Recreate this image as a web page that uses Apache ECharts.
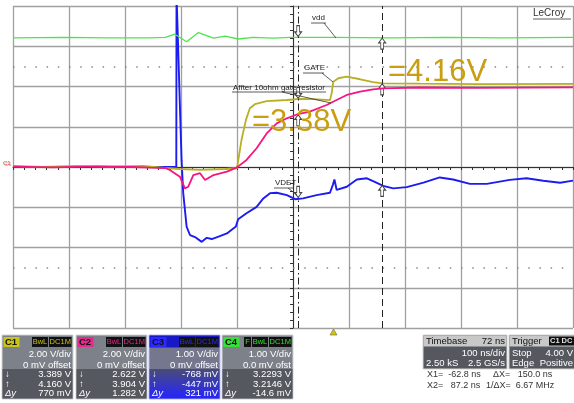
<!DOCTYPE html>
<html><head><meta charset="utf-8">
<script src="https://cdn.jsdelivr.net/npm/echarts/dist/echarts.min.js"></script>
<style>html,body{margin:0;padding:0;background:#fff}#c{width:574px;height:403px}</style>
</head><body><div id="c"></div>
<script>
// ---- data (time in ns, values in volts) ----
const c1Time = [-572,-520,-460,-400,-340,-300,-274,-238,-193,-172,-164,-156,-149,-140,-119,-83,-60,-36,-6,-3,0,9,24,48,71,89,155,262,428];
const c1Volt = [0.05,0.0,0.06,0.02,0.05,-0.05,-0.1,-0.14,-0.1,-0.05,1.34,2.34,2.92,3.12,3.27,3.33,3.39,3.37,3.32,3.66,4.24,4.41,4.49,4.36,4.22,4.16,4.14,4.12,4.13];

const c2Time = [-572,-500,-420,-360,-327,-300,-292,-274,-265,-259,-250,-238,-229,-214,-190,-172,-155,-137,-119,-101,-83,-65,-42,-12,6,24,48,71,89,155,262,428];
const c2Volt = [0.02,-0.02,0.03,0.0,-0.03,-0.05,-0.15,-0.48,-1.06,-0.98,-0.40,-0.31,-0.65,-0.40,-0.23,-0.02,0.35,0.93,1.67,2.17,2.42,2.61,2.75,3.08,3.33,3.58,3.74,3.86,3.91,3.95,3.93,3.96];

const c3Time = [-572,-280.4,-280,-271,-268,-262,-256,-247,-235,-226,-217,-205,-190,-174,-170,-155,-137,-125,-113,-101,-83,-68,-54,-30,-6,-1,2,6,24,42,60,74,89,107,131,161,190,214,244,274,315,345,375,405,428];
const c3Volt = [0,0,4.3,0.17,-0.65,-1.48,-1.69,-1.74,-1.86,-1.76,-1.79,-1.73,-1.65,-1.48,-1.30,-1.15,-0.99,-0.78,-0.65,-0.64,-0.70,-0.80,-0.78,-0.70,-0.64,-0.45,-0.31,-0.57,-0.49,-0.31,-0.28,-0.37,-0.47,-0.53,-0.50,-0.39,-0.26,-0.31,-0.42,-0.42,-0.32,-0.28,-0.34,-0.39,-0.34];

const c4Time = [-572,-480,-400,-330,-300,-283,-262,-241,-214,-193,-170,-143,-107,-77,0,100,200,300,428];
const c4Volt = [3.21,3.22,3.21,3.21,3.22,3.30,3.11,3.34,3.20,3.25,3.18,3.22,3.20,3.22,3.22,3.21,3.22,3.21,3.22];

const cursorTimes = [-62.8, 87.2];
const c1AtCursor = [3.389, 4.160];
const c2AtCursor = [2.622, 3.904];
const c3AtCursor = [-0.768, -0.447];
const c4AtCursor = [3.2293, 3.2146];

const chNames = ['C1','C2','C3','C4'];
const chColors = ['#b8b020','#f5167f','#1c1cf0','#4ce64c'];
const tagColors = ['#c8c418','#e8288e','#2a2aff','#36e036'];
const voltsPerDiv = ['2.00 V/div','2.00 V/div','1.00 V/div','1.00 V/div'];
const offsets = ['0 mV offset','0 mV offset','0 mV offset','0.0 mV ofst'];
const readX1 = ['3.389 V','2.622 V','-768 mV','3.2293 V'];
const readX2 = ['4.160 V','3.904 V','-447 mV','3.2146 V'];
const readDy = ['770 mV','1.282 V','321 mV','-14.6 mV'];

const annotations = ['vdd','GATE','Affter 10ohm gate resistor','VDET'];
const bigLabels = ['=3.38V','=4.16V'];

// ---- chart ----
const F = 'Liberation Sans, Arial, sans-serif';
const zip = (t, v) => t.map((x, i) => [x, v[i]]);
const arrowPath = 'path://M5,0L10,6L7,6L7,14L3,14L3,6L0,6Z';
const up = (t, v) => ({coord:[t, v], symbolOffset:[0, 6]});
const down = (t, v) => ({coord:[t, v], symbolRotate:180, symbolOffset:[0, -6]});
const mp = (data) => ({symbol: arrowPath, symbolSize:[7,11], silent:true, label:{show:false},
  itemStyle:{color:'#fff', borderColor:'#444', borderWidth:1}, data});

const G = [];
function T(x, y, text, o) { G.push(Object.assign({type:'text', x, y, z:100, style:Object.assign({text, fill:'#fff', fontSize:9.5, fontFamily:F, align:'left', verticalAlign:'middle'}, o||{})})); }
function R(x, y, w, h, fill, stroke) { G.push({type:'rect', z:90, shape:{x, y, width:w, height:h}, style:{fill, stroke: stroke||null, lineWidth:1}}); }
function L(x1, y1, x2, y2, c, lw) { G.push({type:'line', z:100, shape:{x1, y1, x2, y2}, style:{stroke:c||'#333', lineWidth:lw||0.8}}); }

// annotations
T(312, 18, annotations[0], {fill:'#222', fontSize:8}); L(311, 23, 326, 23); L(324, 23, 336, 38);
T(304, 68, annotations[1], {fill:'#222', fontSize:8}); L(303, 73, 324, 73); L(322, 73, 333, 82);
T(233, 88, annotations[2], {fill:'#222', fontSize:8}); L(232, 92, 326, 92); L(282, 92, 331, 103);
T(275, 183, annotations[3], {fill:'#222', fontSize:8}); L(274, 188, 294, 188); L(288, 188, 297, 195);
T(252, 122, bigLabels[0], {fill:'#c99e10', fontSize:31});
T(388, 72, bigLabels[1], {fill:'#c99e10', fontSize:31});
T(533, 13, 'LeCroy', {fill:'#333', fontSize:10}); L(533, 19, 571, 19, '#333', 0.8);
T(3, 163, 'C1', {fill:chColors[1], fontSize:6}); T(4, 164, 'C1', {fill:chColors[0], fontSize:6});
G.push({type:'polygon', z:100, shape:{points:[[330,335],[337,335],[333.5,329]]}, style:{fill:'#d8c400', stroke:'#666', lineWidth:0.6}});

// channel boxes
const boxX = [2, 76, 149, 222];
chNames.forEach((n, i) => {
  const x0 = boxX[i], y0 = 335, w = 71, h = 64, act = i === 2;
  R(x0, y0, w, h, act ? '#74778e' : '#7d8189', act ? '#b8b8ff' : '#d4d4d4');
  if (act) R(x0 + 0.5, y0 + 0.5, w - 1, 12, '#1818c4');
  R(x0 + 0.5, y0 + 34, w - 1, h - 34.5, act ? new echarts.graphic.LinearGradient(0,0,0,1,[{offset:0,color:'#4a4c78'},{offset:1,color:'#2424ff'}]) : '#55585f');
  R(x0 + 1.5, y0 + 2, 16, 10, tagColors[i]);
  T(x0 + 3, y0 + 7, n, {fill:'#111', fontSize:9.5, fontWeight:'bold'});
  R(x0 + w - 24, y0 + 2, 22.5, 10, '#111'); T(x0 + w - 12.75, y0 + 7, 'DC1M', {fill:tagColors[i], align:'center', fontSize:7.5});
  R(x0 + w - 41, y0 + 2, 16, 10, '#111'); T(x0 + w - 33, y0 + 7, 'BwL', {fill:tagColors[i], align:'center', fontSize:7.5});
  if (i === 3) { R(x0 + w - 49, y0 + 2, 7, 10, '#111'); T(x0 + w - 45.5, y0 + 7, 'F', {fill:tagColors[i], align:'center', fontSize:7.5}); }
  T(x0 + w - 2, y0 + 19.5, voltsPerDiv[i], {align:'right'});
  T(x0 + w - 2, y0 + 30, offsets[i], {align:'right'});
  T(x0 + 3, y0 + 39.5, '\u2193'); T(x0 + w - 2, y0 + 39.5, readX1[i], {align:'right'});
  T(x0 + 3, y0 + 49, '\u2191'); T(x0 + w - 2, y0 + 49, readX2[i], {align:'right'});
  T(x0 + 3, y0 + 58.5, '\u0394y', {fontStyle:'italic'}); T(x0 + w - 2, y0 + 58.5, readDy[i], {align:'right'});
});
// timebase / trigger
R(423, 335, 84, 34, '#55585f', '#d4d4d4'); R(423.5, 335.5, 83, 11, '#c8c8c8');
T(426, 341, 'Timebase', {fill:'#111'}); T(505, 341, '72 ns', {fill:'#111', align:'right'});
T(505, 353, '100 ns/div', {align:'right'}); T(426, 363, '2.50 kS'); T(505, 363, '2.5 GS/s', {align:'right'});
R(509, 335, 66, 34, '#55585f', '#d4d4d4'); R(509.5, 335.5, 65, 11, '#c8c8c8');
T(512, 341, 'Trigger', {fill:'#111'}); R(549, 336.5, 25, 9, '#111');
T(550, 341, 'C1', {fill:'#e0e0e0', fontSize:7.5, fontWeight:'bold'}); T(561.5, 341, 'DC', {fill:'#e0e0e0', fontSize:7.5, fontWeight:'bold'});
T(512, 353, 'Stop'); T(573, 353, '4.00 V', {align:'right'});
T(512, 363, 'Edge'); T(573, 363, 'Positive', {align:'right'});
T(427, 375, 'X1=  -62.8 ns', {fill:'#333', fontSize:9}); T(493, 375, '\u0394X=   150.0 ns', {fill:'#333', fontSize:9});
T(427, 386, 'X2=   87.2 ns', {fill:'#333', fontSize:9}); T(486, 386, '1/\u0394X=  6.67 MHz', {fill:'#333', fontSize:9});

const chart = echarts.init(document.getElementById('c'), null, {renderer:'canvas'});
chart.setOption({
  animation:false,
  backgroundColor:'#fff',
  grid:{left:13, top:6, width:560, height:322, containLabel:false},
  xAxis:[
    {type:'value', min:-572, max:428, show:false},
    {type:'value', min:-500, max:500, interval:100, position:'bottom',
     axisLine:{show:true, onZero:true, onZeroAxisIndex:0, lineStyle:{color:'#333', width:1}},
     axisTick:{show:true, length:3, lineStyle:{color:'#333'}},
     minorTick:{show:true, splitNumber:5, length:3, lineStyle:{color:'#333'}},
     axisLabel:{show:false},
     splitLine:{show:true, lineStyle:{color:'#a0a0a0', width:1.3}}}
  ],
  yAxis:[
    {type:'value', min:-8, max:8, interval:2,
     axisLine:{show:true, onZero:true, onZeroAxisIndex:1, lineStyle:{color:'#333', width:1}},
     axisTick:{show:true, length:3, lineStyle:{color:'#333'}},
     minorTick:{show:true, splitNumber:5, length:3, lineStyle:{color:'#333'}},
     axisLabel:{show:false},
     splitLine:{show:true, lineStyle:{color:'#a0a0a0', width:1.3}}},
    {type:'value', min:-4, max:4, show:false}
  ],
  series:[
    {name:'C3', type:'line', xAxisIndex:0, yAxisIndex:1, data:zip(c3Time, c3Volt), showSymbol:false, z:2,
     lineStyle:{color:chColors[2], width:1.9},
     markLine:{silent:true, symbol:['none','none'], label:{show:false},
       lineStyle:{color:'#888', width:1.5, type:[1.5, 9.7]},
       data:[{yAxis:2.5},{yAxis:-2.5}]},
     markPoint: mp([down(cursorTimes[0], c3AtCursor[0]), up(cursorTimes[1], c3AtCursor[1])])},
    {name:'C4', type:'line', xAxisIndex:0, yAxisIndex:1, data:zip(c4Time, c4Volt), showSymbol:false, z:3,
     lineStyle:{color:chColors[3], width:1.3},
     markLine:{silent:true, symbol:['none','none'], label:{show:false},
       data:[{xAxis:cursorTimes[0], lineStyle:{color:'#222', width:1, type:[7,3,1.5,3]}},
             {xAxis:cursorTimes[1], lineStyle:{color:'#222', width:1, type:[7,4]}}]},
     markPoint: mp([down(cursorTimes[0], c4AtCursor[0]), up(cursorTimes[1], c4AtCursor[1])])},
    {name:'C1', type:'line', xAxisIndex:0, yAxisIndex:0, data:zip(c1Time, c1Volt), showSymbol:false, z:4,
     lineStyle:{color:chColors[0], width:1.8},
     markPoint: mp([down(cursorTimes[0], c1AtCursor[0]), up(cursorTimes[1], c1AtCursor[1])])},
    {name:'C2', type:'line', xAxisIndex:0, yAxisIndex:0, data:zip(c2Time, c2Volt), showSymbol:false, z:5,
     lineStyle:{color:chColors[1], width:1.8},
     markPoint: mp([up(cursorTimes[0], c2AtCursor[0])])}
  ],
  graphic:{elements:G}
});
</script></body></html>
